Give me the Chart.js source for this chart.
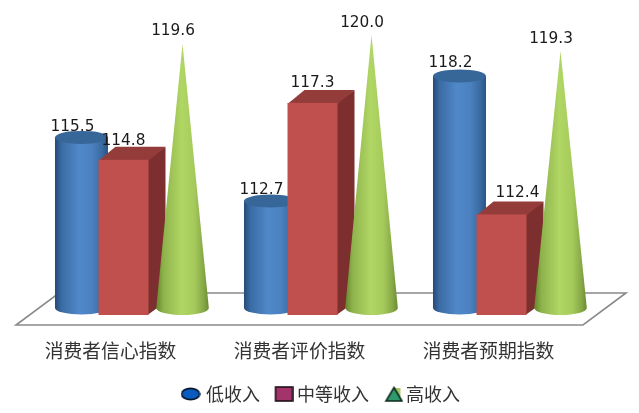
<!DOCTYPE html>
<html>
<head>
<meta charset="utf-8">
<style>html,body{margin:0;padding:0;background:#fff}#w{width:639px;height:413px}</style>
<script src="https://cdn.jsdelivr.net/npm/chart.js@4/dist/chart.umd.min.js"></script>
</head>
<body>
<div id="w"><canvas id="c"></canvas></div>
<script>
const categories = ['消费者信心指数', '消费者评价指数', '消费者预期指数'];
const lowIncome = [115.5, 112.7, 118.2];
const midIncome = [114.8, 117.3, 112.4];
const highIncome = [119.6, 120.0, 119.3];
const seriesNames = ['低收入', '中等收入', '高收入'];
const axisMin = 108;
const axisMax = 120;

const CJK = '"Noto Sans CJK SC","Noto Sans",sans-serif';

function marker(w, h, draw) {
  const cv = document.createElement('canvas');
  cv.width = w; cv.height = h;
  draw(cv.getContext('2d'));
  return cv;
}
const legendMarks = [
  marker(20, 14, g => {
    g.beginPath(); g.ellipse(10, 7, 9, 5.6, 0, 0, Math.PI * 2);
    g.fillStyle = '#0b5cc0'; g.fill();
    g.lineWidth = 1.6; g.strokeStyle = '#08162c'; g.stroke();
  }),
  marker(24, 16, g => {
    g.translate(5, 0);
    g.fillStyle = '#a3336b'; g.fillRect(1, 1, 17, 14);
    g.lineWidth = 1.6; g.strokeStyle = '#1c1018'; g.strokeRect(1, 1, 17, 14);
  }),
  marker(26, 16, g => {
    g.translate(7, 0);
    g.fillStyle = '#a9c86a'; g.fillRect(11, 2, 5, 12);
    g.beginPath(); g.moveTo(9.5, 1.5); g.lineTo(17.5, 15); g.lineTo(1.5, 15); g.closePath();
    g.fillStyle = '#2f9a6d'; g.fill();
    g.lineWidth = 1.6; g.strokeStyle = '#0c2a1c'; g.stroke();
  })
];

function hGrad(ctx, x0, x1, stops) {
  const g = ctx.createLinearGradient(x0, 0, x1, 0);
  stops.forEach(s => g.addColorStop(s[0], s[1]));
  return g;
}
const blueStops = [[0, '#244a78'], [0.12, '#3a6ba3'], [0.45, '#5088ca'], [0.7, '#4b81c0'], [0.9, '#39699f'], [1, '#2a5384']];
const greenStops = [[0, '#66862c'], [0.14, '#8fb34c'], [0.48, '#b0d664'], [0.72, '#a6cb5c'], [0.9, '#86a846'], [1, '#6b8b30']];

function drawCylinder(ctx, el, cx) {
  const rx = 26.5, ry = 6.5, top = el.y, bot = el.base;
  ctx.beginPath();
  ctx.moveTo(cx - rx, top);
  ctx.lineTo(cx - rx, bot);
  ctx.ellipse(cx, bot, rx, ry, 0, Math.PI, 0, true);
  ctx.lineTo(cx + rx, top);
  ctx.closePath();
  ctx.fillStyle = hGrad(ctx, cx - rx, cx + rx, blueStops);
  ctx.fill();
  ctx.beginPath();
  ctx.ellipse(cx, top, rx, ry, 0, 0, Math.PI * 2);
  ctx.fillStyle = '#376699';
  ctx.fill();
}
function drawBox(ctx, el, cx) {
  const hw = 25, dx = 17, dy = 13, top = el.y + 6.5, bot = el.base + 7;
  const l = cx - hw, r = cx + hw;
  ctx.fillStyle = '#7c2f2e';
  ctx.beginPath();
  ctx.moveTo(r - 1, top); ctx.lineTo(r + dx, top - dy); ctx.lineTo(r + dx, bot - dy); ctx.lineTo(r - 1, bot);
  ctx.closePath(); ctx.fill();
  ctx.fillStyle = '#943c3a';
  ctx.beginPath();
  ctx.moveTo(l, top + 1); ctx.lineTo(l + dx, top - dy); ctx.lineTo(r + dx, top - dy); ctx.lineTo(r, top + 1);
  ctx.closePath(); ctx.fill();
  ctx.fillStyle = '#c0504d';
  ctx.fillRect(l, top, hw * 2, bot - top);
}
function drawCone(ctx, el, cx) {
  const rx = 26.3, ry = 7, bot = el.base;
  ctx.beginPath();
  ctx.moveTo(cx, el.y);
  ctx.lineTo(cx + rx, bot);
  ctx.ellipse(cx, bot, rx, ry, 0, 0, Math.PI);
  ctx.closePath();
  ctx.fillStyle = hGrad(ctx, cx - rx, cx + rx, greenStops);
  ctx.fill();
}

const painters = [
  { draw: drawCylinder, shift: 21, labelDx: -9, labelDy: -12.5, extraDx: [0, 0, 0], extraDy: [2, 1, 0] },
  { draw: drawBox, shift: 13, labelDx: 0, labelDy: -13, extraDx: [0, 0, 16], extraDy: [1, 0, -2] },
  { draw: drawCone, shift: 22, labelDx: -9.5, labelDy: -13.5, extraDx: [0, 0, 0], extraDy: [0, 2, 2] }
];

const shapes3d = {
  id: 'shapes3d',
  afterLayout(chart) {
    // the legend centres on the whole window, not on the plot area
    if (chart.legend) { chart.legend.left = 0; chart.legend.right = chart.width + 5; }
  },
  beforeDatasetsDraw(chart) {
    const { ctx, chartArea: a } = chart;
    ctx.save();
    // floor
    ctx.beginPath();
    ctx.moveTo(a.left, a.bottom + 17);
    ctx.lineTo(a.right, a.bottom + 17);
    ctx.lineTo(a.right + 43, a.bottom - 15);
    ctx.lineTo(a.left + 43, a.bottom - 15);
    ctx.closePath();
    ctx.fillStyle = '#ffffff';
    ctx.fill();
    ctx.lineWidth = 1.6;
    ctx.strokeStyle = '#8a8a8a';
    ctx.stroke();
    // shapes, back to front
    chart.data.datasets.forEach((ds, di) => {
      const p = painters[di];
      chart.getDatasetMeta(di).data.forEach(el => p.draw(ctx, el, el.x + p.shift));
    });
    // value labels
    ctx.font = '15.3px "DejaVu Sans"';
    ctx.fillStyle = '#1a1a1a';
    ctx.textAlign = 'center';
    ctx.textBaseline = 'middle';
    chart.data.datasets.forEach((ds, di) => {
      const p = painters[di];
      chart.getDatasetMeta(di).data.forEach((el, i) => {
        const lx = el.x + p.shift + p.labelDx + p.extraDx[i];
        const ly = el.y + p.labelDy + p.extraDy[i];
        ctx.fillText(ds.data[i].toFixed(1), lx, ly);
      });
    });
    ctx.restore();
    return false;
  }
};

new Chart(document.getElementById('c'), {
  type: 'bar',
  data: {
    labels: categories,
    datasets: [
      { label: seriesNames[0], data: lowIncome, base: axisMin, backgroundColor: '#4f81bd' },
      { label: seriesNames[1], data: midIncome, base: axisMin, backgroundColor: '#c0504d' },
      { label: seriesNames[2], data: highIncome, base: axisMin, backgroundColor: '#9bbb59' }
    ]
  },
  plugins: [shapes3d],
  options: {
    responsive: true,
    maintainAspectRatio: false,
    animation: false,
    events: [],
    layout: { padding: { left: 16, right: 56, top: 35, bottom: 0 } },
    datasets: { bar: { categoryPercentage: 0.794, barPercentage: 1 } },
    scales: {
      x: {
        grid: { display: false, drawTicks: false },
        border: { display: false },
        ticks: {
          autoSkip: false, maxRotation: 0, minRotation: 0, padding: 32,
          color: '#333333',
          font: { family: CJK, size: 18.8 }
        },
        afterFit(s) { s.height = 62; }
      },
      y: { display: false, min: axisMin, max: axisMax }
    },
    plugins: {
      tooltip: { enabled: false },
      title: { display: false },
      legend: {
        display: true,
        position: 'bottom',
        labels: {
          usePointStyle: true,
          boxWidth: 13,
          boxHeight: 16,
          padding: 15,
          color: '#333333',
          font: { family: CJK, size: 18 },
          generateLabels(chart) {
            return chart.data.datasets.map((ds, i) => ({
              text: ds.label,
              datasetIndex: i,
              pointStyle: legendMarks[i],
              fontColor: '#333333',
              lineWidth: 0,
              hidden: false
            }));
          }
        }
      }
    }
  }
});
</script>
</body>
</html>
